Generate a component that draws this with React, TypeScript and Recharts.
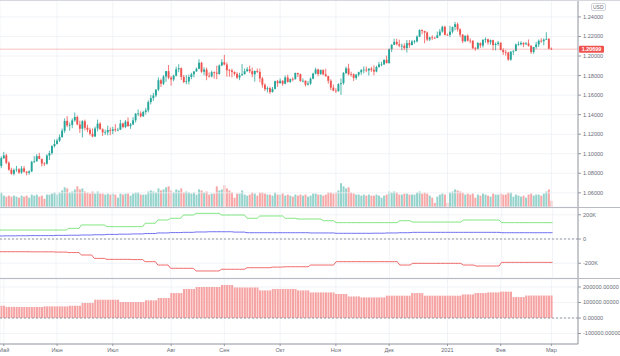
import React from 'react';
import {
  ComposedChart,
  BarChart,
  LineChart,
  Bar,
  Line,
  XAxis,
  YAxis,
  CartesianGrid,
  ReferenceLine,
  Cell,
} from 'recharts';

// EUR/USD daily, 30 Apr 2020 .. 1 Mar 2021. First close is the 29 Apr close (open of the first candle).
const closes = [
  1.0875,
  1.0955, 1.0983, 1.0907, 1.0837, 1.0795, 1.0833, 1.0840, 1.0807, 1.0850, 1.0817,
  1.0805, 1.0819, 1.0917, 1.0923, 1.0976, 1.0947, 1.0900, 1.0898, 1.0981, 1.1007,
  1.1078, 1.1100, 1.1134, 1.1170, 1.1235, 1.1336, 1.1290, 1.1295, 1.1341, 1.1376,
  1.1299, 1.1256, 1.1332, 1.1266, 1.1246, 1.1204, 1.1177, 1.1259, 1.1308, 1.1250,
  1.1219, 1.1219, 1.1243, 1.1234, 1.1250, 1.1241, 1.1245, 1.1310, 1.1274, 1.1329,
  1.1283, 1.1300, 1.1342, 1.1409, 1.1413, 1.1383, 1.1427, 1.1444, 1.1529, 1.1569,
  1.1596, 1.1656, 1.1752, 1.1716, 1.1790, 1.1845, 1.1778, 1.1760, 1.1799, 1.1864,
  1.1875, 1.1786, 1.1734, 1.1741, 1.1785, 1.1813, 1.1842, 1.1869, 1.1931, 1.1839,
  1.1861, 1.1797, 1.1792, 1.1834, 1.1829, 1.1817, 1.1903, 1.1936, 1.1913, 1.1854,
  1.1852, 1.1837, 1.1818, 1.1779, 1.1802, 1.1814, 1.1845, 1.1864, 1.1845, 1.1813,
  1.1847, 1.1837, 1.1770, 1.1706, 1.1660, 1.1671, 1.1631, 1.1664, 1.1742, 1.1722,
  1.1747, 1.1716, 1.1781, 1.1735, 1.1763, 1.1762, 1.1826, 1.1814, 1.1744, 1.1747,
  1.1707, 1.1718, 1.1768, 1.1820, 1.1862, 1.1816, 1.1858, 1.1812, 1.1794, 1.1746,
  1.1676, 1.1646, 1.1640, 1.1712, 1.1722, 1.1826, 1.1874, 1.1814, 1.1813, 1.1776,
  1.1809, 1.1834, 1.1855, 1.1860, 1.1852, 1.1871, 1.1859, 1.1841, 1.1888, 1.1914,
  1.1914, 1.1961, 1.1927, 1.2070, 1.2114, 1.2145, 1.2120, 1.2105, 1.2105, 1.2081,
  1.2132, 1.2111, 1.2148, 1.2150, 1.2198, 1.2265, 1.2256, 1.2240, 1.2168, 1.2190,
  1.2186, 1.2185, 1.2212, 1.2250, 1.2299, 1.2216, 1.2215, 1.2249, 1.2297, 1.2325,
  1.2272, 1.2218, 1.2151, 1.2208, 1.2157, 1.2155, 1.2081, 1.2076, 1.2132, 1.2107,
  1.2165, 1.2171, 1.2140, 1.2162, 1.2112, 1.2123, 1.2137, 1.2061, 1.2039, 1.2036,
  1.1963, 1.2045, 1.2052, 1.2117, 1.2120, 1.2134, 1.2119, 1.2129, 1.2104, 1.2040,
  1.2092, 1.2118, 1.2156, 1.2151, 1.2167, 1.2175, 1.2075, 1.2070,
];

const highs = [
  1.0973, 1.1019, 1.1000, 1.0923, 1.0857, 1.0850, 1.0876, 1.0853, 1.0875, 1.0874,
  1.0822, 1.0830, 1.0927, 1.0975, 1.0995, 1.1009, 1.0949, 1.0914, 1.0996, 1.1030,
  1.1087, 1.1146, 1.1154, 1.1197, 1.1258, 1.1362, 1.1384, 1.1320, 1.1362, 1.1422,
  1.1391, 1.1338, 1.1344, 1.1349, 1.1297, 1.1266, 1.1257, 1.1278, 1.1349, 1.1323,
  1.1260, 1.1247, 1.1288, 1.1270, 1.1276, 1.1303, 1.1265, 1.1346, 1.1318, 1.1344,
  1.1371, 1.1315, 1.1375, 1.1416, 1.1452, 1.1434, 1.1440, 1.1469, 1.1546, 1.1601,
  1.1623, 1.1660, 1.1781, 1.1768, 1.1805, 1.1847, 1.1908, 1.1796, 1.1809, 1.1891,
  1.1916, 1.1883, 1.1806, 1.1805, 1.1808, 1.1828, 1.1845, 1.1882, 1.1966, 1.1940,
  1.1884, 1.1882, 1.1832, 1.1849, 1.1842, 1.1901, 1.1914, 1.1967, 1.2011, 1.1935,
  1.1868, 1.1870, 1.1842, 1.1835, 1.1828, 1.1917, 1.1872, 1.1887, 1.1902, 1.1882,
  1.1852, 1.1872, 1.1871, 1.1786, 1.1720, 1.1688, 1.1685, 1.1683, 1.1749, 1.1755,
  1.1771, 1.1751, 1.1800, 1.1809, 1.1770, 1.1782, 1.1831, 1.1829, 1.1820, 1.1771,
  1.1749, 1.1743, 1.1781, 1.1829, 1.1880, 1.1870, 1.1860, 1.1861, 1.1870, 1.1798,
  1.1762, 1.1708, 1.1670, 1.1721, 1.1770, 1.1836, 1.1891, 1.1920, 1.1840, 1.1822,
  1.1815, 1.1840, 1.1868, 1.1893, 1.1892, 1.1873, 1.1890, 1.1905, 1.1900, 1.1941,
  1.1940, 1.1964, 1.2004, 1.2077, 1.2122, 1.2176, 1.2177, 1.2167, 1.2127, 1.2129,
  1.2163, 1.2162, 1.2163, 1.2165, 1.2212, 1.2273, 1.2272, 1.2258, 1.2250, 1.2198,
  1.2212, 1.2198, 1.2250, 1.2276, 1.2310, 1.2310, 1.2230, 1.2310, 1.2301, 1.2349,
  1.2343, 1.2283, 1.2225, 1.2210, 1.2222, 1.2180, 1.2163, 1.2094, 1.2145, 1.2139,
  1.2172, 1.2190, 1.2177, 1.2168, 1.2167, 1.2139, 1.2155, 1.2138, 1.2079, 1.2063,
  1.2043, 1.2048, 1.2059, 1.2128, 1.2149, 1.2150, 1.2140, 1.2144, 1.2169, 1.2110,
  1.2094, 1.2145, 1.2169, 1.2181, 1.2180, 1.2243, 1.2183, 1.2087,
];

const lows = [
  1.0852, 1.0946, 1.0894, 1.0826, 1.0785, 1.0778, 1.0814, 1.0794, 1.0794, 1.0808,
  1.0778, 1.0785, 1.0812, 1.0903, 1.0918, 1.0944, 1.0870, 1.0875, 1.0888, 1.0935,
  1.0990, 1.1063, 1.1094, 1.1120, 1.1165, 1.1213, 1.1272, 1.1236, 1.1262, 1.1327,
  1.1290, 1.1214, 1.1167, 1.1239, 1.1220, 1.1187, 1.1168, 1.1171, 1.1229, 1.1248,
  1.1182, 1.1192, 1.1188, 1.1190, 1.1200, 1.1224, 1.1229, 1.1244, 1.1260, 1.1262,
  1.1275, 1.1255, 1.1295, 1.1320, 1.1385, 1.1371, 1.1376, 1.1402, 1.1423, 1.1505,
  1.1541, 1.1578, 1.1641, 1.1683, 1.1703, 1.1735, 1.1762, 1.1696, 1.1741, 1.1790,
  1.1834, 1.1754, 1.1722, 1.1711, 1.1710, 1.1762, 1.1781, 1.1838, 1.1865, 1.1827,
  1.1802, 1.1753, 1.1780, 1.1781, 1.1768, 1.1763, 1.1808, 1.1896, 1.1905, 1.1789,
  1.1789, 1.1781, 1.1800, 1.1765, 1.1753, 1.1800, 1.1810, 1.1838, 1.1826, 1.1783,
  1.1737, 1.1825, 1.1731, 1.1676, 1.1642, 1.1627, 1.1612, 1.1626, 1.1657, 1.1684,
  1.1718, 1.1696, 1.1710, 1.1728, 1.1724, 1.1741, 1.1760, 1.1785, 1.1736, 1.1730,
  1.1689, 1.1698, 1.1704, 1.1761, 1.1812, 1.1793, 1.1807, 1.1803, 1.1788, 1.1717,
  1.1650, 1.1640, 1.1622, 1.1636, 1.1603, 1.1707, 1.1813, 1.1800, 1.1789, 1.1745,
  1.1757, 1.1790, 1.1808, 1.1823, 1.1834, 1.1800, 1.1838, 1.1803, 1.1833, 1.1880,
  1.1895, 1.1908, 1.1925, 1.1923, 1.2040, 1.2111, 1.2110, 1.2090, 1.2058, 1.2060,
  1.2035, 1.2083, 1.2112, 1.2126, 1.2138, 1.2193, 1.2222, 1.2130, 1.2152, 1.2153,
  1.2164, 1.2178, 1.2182, 1.2204, 1.2239, 1.2212, 1.2210, 1.2192, 1.2231, 1.2263,
  1.2250, 1.2192, 1.2132, 1.2142, 1.2148, 1.2130, 1.2070, 1.2054, 1.2067, 1.2083,
  1.2086, 1.2135, 1.2116, 1.2116, 1.2057, 1.2058, 1.2105, 1.2058, 1.2011, 1.2003,
  1.1952, 1.1951, 1.2011, 1.2048, 1.2103, 1.2108, 1.2090, 1.2114, 1.2095, 1.2022,
  1.2023, 1.2073, 1.2091, 1.2135, 1.2110, 1.2166, 1.2068, 1.2062,
];

const volumes = [
  14, 11, 10, 11, 10, 11, 10, 9, 11, 10,
  11, 9, 12, 11, 12, 10, 11, 8, 12, 12,
  13, 14, 12, 14, 16, 19, 18, 14, 15, 17,
  20, 17, 18, 15, 14, 13, 15, 13, 15, 13,
  13, 12, 13, 12, 13, 12, 9, 13, 12, 13,
  13, 11, 13, 14, 14, 12, 12, 12, 15, 16,
  15, 14, 18, 16, 17, 19, 20, 16, 14, 17,
  16, 18, 14, 15, 14, 13, 14, 12, 17, 16,
  14, 15, 12, 13, 13, 20, 16, 17, 21, 18,
  16, 14, 9, 13, 13, 16, 12, 11, 12, 14,
  13, 11, 14, 14, 13, 12, 12, 11, 14, 12,
  12, 13, 11, 12, 11, 10, 12, 11, 12, 11,
  12, 10, 11, 13, 13, 12, 12, 11, 12, 14,
  14, 13, 14, 16, 23, 20, 18, 19, 14, 13,
  12, 12, 11, 12, 11, 12, 11, 11, 12, 11,
  9, 11, 12, 15, 14, 15, 14, 12, 12, 13,
  13, 12, 12, 12, 14, 15, 13, 14, 13, 11,
  9, 4, 10, 12, 13, 12, 4, 14, 15, 17,
  16, 15, 14, 12, 13, 12, 13, 9, 12, 11,
  13, 12, 11, 10, 13, 12, 12, 13, 12, 12,
  14, 14, 10, 12, 11, 10, 11, 9, 12, 13,
  11, 12, 12, 11, 13, 15, 17, 6,
];

// weekly COT-style values, in thousands (week 0 = week of 27 Apr 2020)
const greenWeekly = [
  74, 74, 74, 74, 74, 74, 88, 116, 116, 102,
  102, 102, 130, 157, 171, 198, 212, 212, 198, 198,
  171, 190, 190, 171, 165, 165, 151, 135, 135, 135,
  135, 135, 151, 140, 140, 140, 140, 157, 157, 157,
  135, 135, 135, 135, 135,
];
const blueWeekly = [
  25, 26, 27, 28, 28, 30, 31, 33, 35, 38,
  40, 42, 45, 50, 53, 55, 58, 60, 60, 57,
  52, 52, 52, 52, 52, 50, 50, 47, 47, 47,
  48, 50, 52, 55, 55, 55, 55, 55, 55, 55,
  52, 52, 52, 52, 52,
];
const redWeekly = [
  -105, -105, -105, -106, -106, -108, -112, -132, -160, -168,
  -168, -170, -187, -215, -242, -242, -264, -264, -250, -250,
  -237, -237, -232, -229, -229, -215, -215, -187, -187, -187,
  -187, -187, -215, -201, -201, -201, -201, -215, -223, -223,
  -193, -193, -193, -193, -193,
];
const netWeekly = [
  79, 72, 71, 71, 75, 75, 79, 97, 118, 118,
  103, 103, 114, 129, 161, 187, 200, 200, 213, 197,
  197, 178, 187, 187, 178, 165, 165, 155, 139, 133,
  133, 144, 144, 161, 144, 144, 144, 152, 161, 165,
  170, 135, 145, 145, 145,
];

const monthLabels = ['Май', 'Июн', 'Июл', 'Авг', 'Сен', 'Окт', 'Ноя', 'Дек', '2021', 'Фев', 'Мар'];
const monthStarts = [1, 22, 44, 67, 88, 110, 132, 153, 176, 197, 217];

const priceTicks = [1.06, 1.08, 1.1, 1.12, 1.14, 1.16, 1.18, 1.2, 1.22, 1.24];
const cotTicks = [-200, 0, 200];
const netTicks = [-100, 0, 100, 200];
const lastPrice = 1.20699;

const UP = '#26a69a';
const DOWN = '#ef5350';
const W = 620;
const AXIS_W = 42;
const SLOTS = 228; // trading days plus the empty space on the right
const tickStyle = { fontSize: 5.6, fill: '#6a6d78' };
const gridColor = '#eef0f5';
const sepColor = '#b8bbc4';

// the 30 Apr candle is a Thursday, so weeks start every 5 bars after an offset of 3
const weekOf = (i: number) => Math.floor((i + 3) / 5);

const rows = Array.from({ length: SLOTS }, (_, i) => {
  if (i >= highs.length) return { i };
  const open = closes[i];
  const close = closes[i + 1];
  const w = weekOf(i);
  return {
    i,
    open,
    close,
    high: highs[i],
    low: lows[i],
    hl: [lows[i], highs[i]],
    vol: volumes[i],
    up: close >= open,
    g: greenWeekly[w],
    b: blueWeekly[w],
    r: redWeekly[w],
    net: netWeekly[w],
  };
});

const Candle = (props: any) => {
  const { x, y, width, height, payload } = props;
  if (!payload || payload.high == null) return null;
  const { open, close, high, low } = payload;
  const color = close >= open ? UP : DOWN;
  const top0 = Math.min(y, y + height);
  const h = Math.abs(height);
  const cx = x + width / 2;
  const span = high - low || 1e-9;
  const py = (v: number) => top0 + ((high - v) / span) * h;
  const bTop = py(Math.max(open, close));
  const bBot = py(Math.min(open, close));
  return (
    <g>
      <line x1={cx} x2={cx} y1={top0} y2={top0 + h} stroke={color} strokeWidth={0.8} />
      <rect x={cx - 0.95} y={bTop} width={1.9} height={Math.max(0.7, bBot - bTop)} fill={color} />
    </g>
  );
};

const PriceTag = (props: any) => {
  const vb = props.viewBox || {};
  const x = (vb.x || 0) + (vb.width || 0);
  const y = vb.y || 0;
  return (
    <g>
      <rect x={x + 1} y={y - 3.5} width={25} height={7} fill={DOWN} rx={1} />
      <text x={x + 13.5} y={y + 2} textAnchor="middle" fontSize={5.4} fill="#ffffff" fontWeight={600}>
        {lastPrice.toFixed(5)}
      </text>
    </g>
  );
};

const hLine = (top: number, color = sepColor) => (
  <div style={{ position: 'absolute', left: 0, top, width: W, height: 1, background: color }} />
);

const App: React.FC = () => {
  const margin = { top: 0, right: 0, left: 0, bottom: 0 };
  return (
    <div
      style={{
        position: 'absolute',
        left: 0,
        top: 0,
        width: W,
        height: 356,
        background: '#ffffff',
        overflow: 'hidden',
        fontFamily: '"Liberation Sans", Arial, sans-serif',
      }}
    >
      {/* price pane: volume underneath, candles on top */}
      <div style={{ position: 'absolute', left: 0, top: 0, width: W, height: 207 }}>
        <div style={{ position: 'absolute', left: 0, top: 0 }}>
          <BarChart width={W} height={207} data={rows} margin={{ ...margin, right: AXIS_W }} barCategoryGap="12%">
            <XAxis dataKey="i" hide />
            <YAxis yAxisId="vol" hide domain={[0, 200]} />
            <Bar yAxisId="vol" dataKey="vol" isAnimationActive={false}>
              {rows.map((r: any, k) => (
                <Cell key={k} fill={r.up ? '#95d3cc' : '#f6a9a8'} />
              ))}
            </Bar>
          </BarChart>
        </div>
        <div style={{ position: 'absolute', left: 0, top: 0 }}>
          <ComposedChart width={W} height={207} data={rows} margin={margin} barCategoryGap="10%">
            <CartesianGrid stroke={gridColor} strokeOpacity={0.8} />
            <XAxis dataKey="i" hide ticks={monthStarts} />
            <YAxis
              orientation="right"
              width={AXIS_W}
              domain={[1.0455, 1.2573]}
              ticks={priceTicks}
              interval={0}
              tickFormatter={(v: number) => v.toFixed(5)}
              tick={tickStyle}
              tickSize={3}
              stroke="#9598a1"
              allowDataOverflow
            />
            <Bar dataKey="hl" shape={<Candle />} isAnimationActive={false} />
            <ReferenceLine y={lastPrice} stroke={DOWN} strokeOpacity={0.35} label={<PriceTag />} />
          </ComposedChart>
        </div>
        <div
          style={{
            position: 'absolute',
            left: 591,
            top: 3,
            fontSize: 5,
            lineHeight: '6px',
            padding: '0 1px',
            color: '#6a6d78',
            border: '1px solid #d1d4dc',
            borderRadius: 2,
          }}
        >
          USD
        </div>
      </div>
      {hLine(0, '#d6d8de')}
      {hLine(207)}

      {/* COT lines pane */}
      <div style={{ position: 'absolute', left: 0, top: 208 }}>
        <LineChart width={W} height={70} data={rows} margin={margin}>
          <CartesianGrid stroke={gridColor} strokeOpacity={0.8} />
          <XAxis dataKey="i" hide ticks={monthStarts} />
          <YAxis
            orientation="right"
            width={AXIS_W}
            domain={[-322, 256]}
            ticks={cotTicks}
            interval={0}
            tickFormatter={(v: number) => (v === 0 ? '0' : `${v}K`)}
            tick={tickStyle}
            tickSize={3}
            stroke="#9598a1"
          />
          <ReferenceLine y={0} stroke="#9598a1" strokeDasharray="2 2" />
          <Line dataKey="g" stroke="#7fe67f" strokeWidth={1} dot={false} isAnimationActive={false} />
          <Line dataKey="b" stroke="#6e6ef2" strokeWidth={1} dot={false} isAnimationActive={false} />
          <Line dataKey="r" stroke="#f06a6a" strokeWidth={1} dot={false} isAnimationActive={false} />
        </LineChart>
      </div>
      {hLine(278)}

      {/* net position histogram + time axis */}
      <div style={{ position: 'absolute', left: 0, top: 279 }}>
        <BarChart width={W} height={77} data={rows} margin={margin} barCategoryGap="18%">
          <CartesianGrid stroke={gridColor} strokeOpacity={0.8} />
          <XAxis
            dataKey="i"
            height={12}
            ticks={monthStarts}
            interval={0}
            tickFormatter={(v: number) => monthLabels[monthStarts.indexOf(v)]}
            tick={tickStyle}
            tickSize={2}
            stroke="#9598a1"
          />
          <YAxis
            orientation="right"
            width={AXIS_W}
            domain={[-167.7, 251.6]}
            ticks={netTicks}
            interval={0}
            tickFormatter={(v: number) => (v * 1000).toFixed(5)}
            tick={tickStyle}
            tickSize={3}
            stroke="#9598a1"
          />
          <ReferenceLine y={0} stroke="#9598a1" strokeDasharray="2 2" />
          <Bar dataKey="net" fill="#f6a3a3" isAnimationActive={false} />
        </BarChart>
      </div>
    </div>
  );
};

export default App;
